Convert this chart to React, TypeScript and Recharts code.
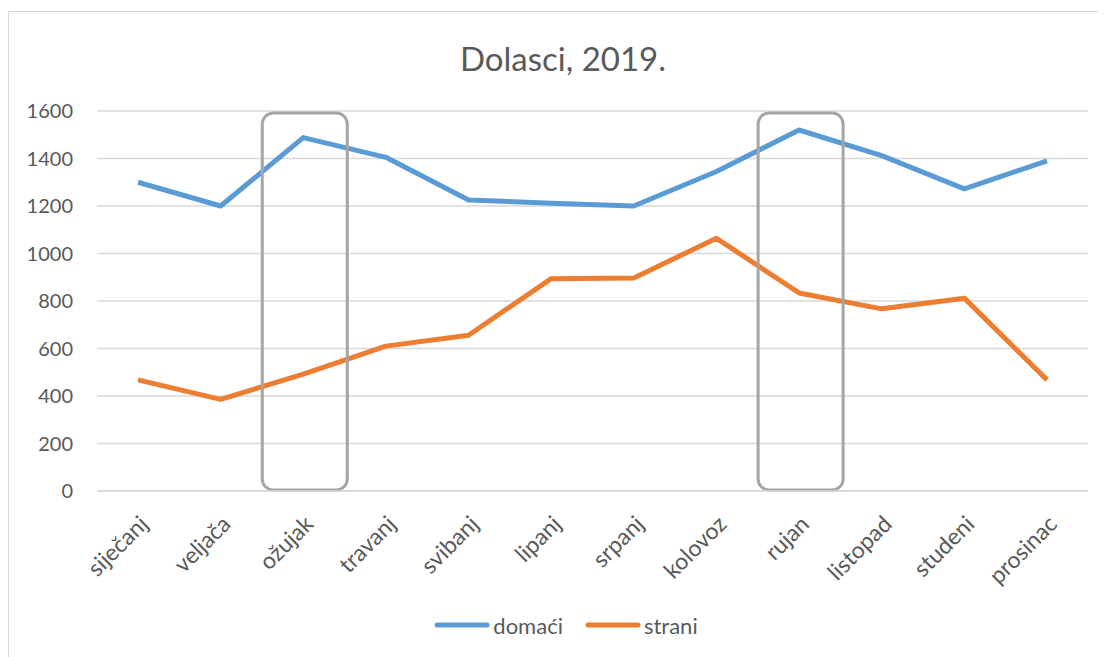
import React from 'react';
import { LineChart, Line, XAxis, YAxis, CartesianGrid, Legend, ReferenceLine } from 'recharts';

const months = ['siječanj', 'veljača', 'ožujak', 'travanj', 'svibanj', 'lipanj', 'srpanj', 'kolovoz', 'rujan', 'listopad', 'studeni', 'prosinac'];
const domaci = [1300, 1200, 1488, 1405, 1225, 1212, 1200, 1345, 1520, 1412, 1272, 1390];
const strani = [468, 386, 492, 610, 656, 894, 897, 1064, 834, 767, 812, 468];
const yTicks = [0, 200, 400, 600, 800, 1000, 1200, 1400, 1600];
const highlighted = ['ožujak', 'rujan'];

const data = months.map((m, i) => ({ month: m, domaci: domaci[i], strani: strani[i] }));

const FONT = 'Lato, sans-serif';
const TEXT = '#595959';

const BoxShape = (props: any) => {
  const { x1, y1, y2 } = props;
  if (x1 == null) return null;
  const top = Math.min(y1, y2);
  const bottom = Math.max(y1, y2);
  return (
    <rect
      x={x1 - 41}
      y={top + 2}
      width={85}
      height={bottom - top - 3}
      rx={11}
      ry={11}
      fill="none"
      stroke="#a5a5a5"
      strokeWidth={3}
    />
  );
};

const LegendContent = (props: any) => {
  const items = [
    { label: 'domaći', color: '#5b9bd5' },
    { label: 'strani', color: '#ed7d31' },
  ];
  return (
    <div style={{ height: 30, paddingLeft: 36, display: 'flex', justifyContent: 'center', alignItems: 'center', fontFamily: FONT, fontSize: 22, color: TEXT }}>
      {items.map((it, i) => (
        <div key={it.label} style={{ display: 'flex', alignItems: 'center', marginLeft: i === 0 ? 0 : 22 }}>
          <svg width={56} height={8} style={{ marginRight: 3 }}>
            <line x1={3} y1={4} x2={53} y2={4} stroke={it.color} strokeWidth={5} strokeLinecap="round" />
          </svg>
          <span>{it.label}</span>
        </div>
      ))}
    </div>
  );
};

export default function App() {
  return (
    <div style={{ position: 'relative', width: 1098, height: 649, fontFamily: FONT }}>
      <div style={{ position: 'absolute', left: 0, top: 3, width: 1200, height: 700, borderTop: '1.5px solid #d9d9d9', borderLeft: '1.5px solid #d9d9d9', pointerEvents: 'none' }} />
      <div style={{ position: 'absolute', left: 0, width: 1110, top: 30, textAlign: 'center', fontSize: 33, color: TEXT, fontFamily: FONT }}>
        Dolasci, 2019.
      </div>
      <div style={{ position: 'absolute', left: 0, top: 0 }}>
        <LineChart width={1098} height={649} data={data} margin={{ top: 103, right: 18, left: 0, bottom: 17 }}>
          <CartesianGrid vertical={false} stroke="#d9d9d9" strokeWidth={1.5} />
          <XAxis
            dataKey="month"
            axisLine={{ stroke: '#d9d9d9', strokeWidth: 1.5 }}
            tickLine={false}
            padding={{ left: 41, right: 41 }}
            interval={0}
            angle={-45}
            textAnchor="end"
            height={119}
            tickMargin={17}
            tick={{ fill: TEXT, fontSize: 23, fontFamily: FONT }}
          />
          <YAxis
            domain={[0, 1600]}
            ticks={yTicks}
            axisLine={false}
            tickLine={false}
            width={89}
            tickMargin={18}
            tick={{ fill: TEXT, fontSize: 20, fontFamily: FONT }}
          />
          <Legend verticalAlign="bottom" content={<LegendContent />} />
          <Line type="linear" dataKey="domaci" name="domaći" stroke="#5b9bd5" strokeWidth={5} dot={false} activeDot={false} isAnimationActive={false} strokeLinejoin="round" />
          <Line type="linear" dataKey="strani" name="strani" stroke="#ed7d31" strokeWidth={5} dot={false} activeDot={false} isAnimationActive={false} strokeLinejoin="round" />
          {highlighted.map((m) => (
            <ReferenceLine key={m} x={m} shape={<BoxShape />} />
          ))}
        </LineChart>
      </div>
    </div>
  );
}
